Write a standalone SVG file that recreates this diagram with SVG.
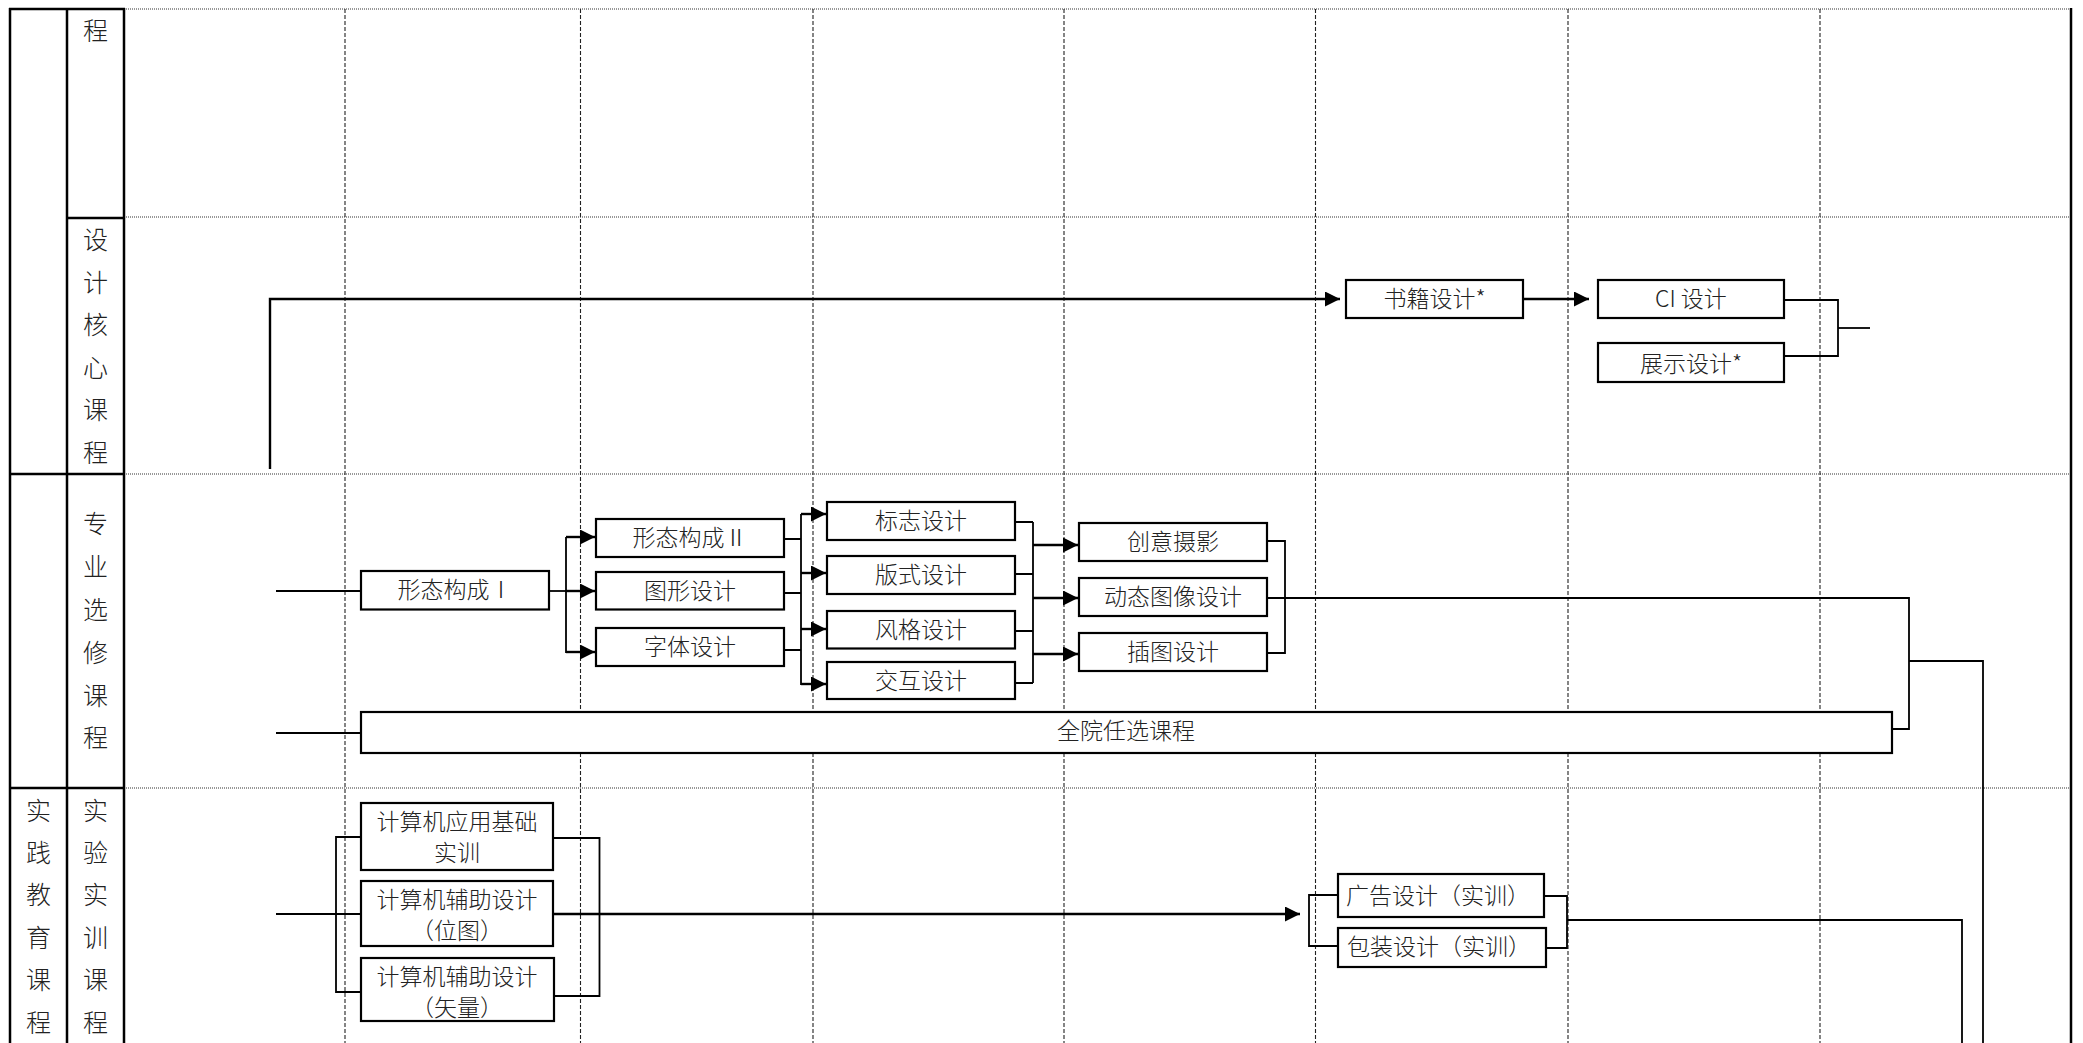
<svg xmlns="http://www.w3.org/2000/svg" width="2083" height="1043" viewBox="0 0 2083 1043">
<style>
.bg{fill:#fff}
.frame{stroke:#000;stroke-width:2.5;fill:none}
.hdot{stroke:#333;stroke-width:1.2;stroke-dasharray:1 1;fill:none}
.vdash{stroke:#222;stroke-width:1.1;stroke-dasharray:4 2;fill:none}
.box{fill:#fff;stroke:#000;stroke-width:2.2}
.conn{stroke:#000;stroke-width:1.8;fill:none}
.arr{stroke:#000;stroke-width:2.4;fill:none;marker-end:url(#ah)}
.t{font-family:"Noto Sans CJK SC","Liberation Serif",sans-serif;font-size:23px;font-weight:300;fill:#222;text-anchor:middle;dominant-baseline:central}
.lab{font-family:"Noto Sans CJK SC","Liberation Serif",sans-serif;font-size:25px;font-weight:300;fill:#222;text-anchor:middle;dominant-baseline:central}
</style>
<defs>
<marker id="ah" markerUnits="userSpaceOnUse" markerWidth="15" markerHeight="15" viewBox="0 0 15 15" refX="15" refY="7.5" orient="auto">
<path d="M0,0 L15,7.5 L0,15 z" fill="#000"/>
</marker>
</defs>
<rect class="bg" x="0" y="0" width="2083" height="1043"/>

<g id="grid">
<line class="hdot" x1="124" y1="9" x2="2071" y2="9"/>
<line class="hdot" x1="124" y1="217" x2="2071" y2="217"/>
<line class="hdot" x1="124" y1="474" x2="2071" y2="474"/>
<line class="hdot" x1="124" y1="788" x2="2071" y2="788"/>
<line class="vdash" x1="345" y1="9" x2="345" y2="1043"/>
<line class="vdash" x1="580.5" y1="9" x2="580.5" y2="1043"/>
<line class="vdash" x1="813" y1="9" x2="813" y2="1043"/>
<line class="vdash" x1="1064" y1="9" x2="1064" y2="1043"/>
<line class="vdash" x1="1315.5" y1="9" x2="1315.5" y2="1043"/>
<line class="vdash" x1="1568" y1="9" x2="1568" y2="1043"/>
<line class="vdash" x1="1820" y1="9" x2="1820" y2="1043"/>
<line class="frame" x1="2071" y1="8" x2="2071" y2="1043" stroke-width="3"/>
<line class="frame" x1="10" y1="8" x2="10" y2="1043"/>
<line class="frame" x1="67" y1="8" x2="67" y2="1043"/>
<line class="frame" x1="124" y1="8" x2="124" y2="1043"/>
<line class="frame" x1="9" y1="9" x2="125" y2="9"/>
<line class="frame" x1="67" y1="218" x2="125" y2="218"/>
<line class="frame" x1="9" y1="474" x2="125" y2="474"/>
<line class="frame" x1="9" y1="788" x2="125" y2="788"/>
</g>

<g id="labels">
<text class="lab" x="95.5" y="29">程</text>
<text class="lab" x="95.5" y="238">设</text>
<text class="lab" x="95.5" y="281">计</text>
<text class="lab" x="95.5" y="323">核</text>
<text class="lab" x="95.5" y="366">心</text>
<text class="lab" x="95.5" y="408">课</text>
<text class="lab" x="95.5" y="451">程</text>
<text class="lab" x="95.5" y="522">专</text>
<text class="lab" x="95.5" y="565">业</text>
<text class="lab" x="95.5" y="608">选</text>
<text class="lab" x="95.5" y="651">修</text>
<text class="lab" x="95.5" y="694">课</text>
<text class="lab" x="95.5" y="736">程</text>
<text class="lab" x="95.5" y="809">实</text>
<text class="lab" x="95.5" y="851">验</text>
<text class="lab" x="95.5" y="893">实</text>
<text class="lab" x="95.5" y="936">训</text>
<text class="lab" x="95.5" y="978">课</text>
<text class="lab" x="95.5" y="1021">程</text>
<text class="lab" x="38.5" y="809">实</text>
<text class="lab" x="38.5" y="851">践</text>
<text class="lab" x="38.5" y="893">教</text>
<text class="lab" x="38.5" y="936">育</text>
<text class="lab" x="38.5" y="978">课</text>
<text class="lab" x="38.5" y="1021">程</text>
</g>

<g id="connectors">
<path class="arr" d="M270,469 V299 H1340"/>
<path class="arr" d="M1523,299 H1589"/>
<path class="conn" d="M1784,300 H1838 V356 H1784"/>
<path class="conn" d="M1838,328 H1870"/>
<path class="conn" d="M276,591 H361"/>
<path class="conn" d="M549,591 H566"/>
<path class="conn" d="M566,537 V653"/>
<path class="arr" d="M566,537 H595"/>
<path class="arr" d="M566,591 H595"/>
<path class="arr" d="M566,652 H595"/>
<path class="conn" d="M784,539 H801 M784,593 H801 M784,650 H801"/>
<path class="conn" d="M801,514 V685"/>
<path class="arr" d="M801,514 H826"/>
<path class="arr" d="M801,573 H826"/>
<path class="arr" d="M801,629 H826"/>
<path class="arr" d="M801,684 H826"/>
<path class="conn" d="M1015,522 H1033 M1015,574 H1033 M1015,631 H1033 M1015,683 H1033"/>
<path class="conn" d="M1033,522 V683"/>
<path class="arr" d="M1033,545 H1078"/>
<path class="arr" d="M1033,598 H1078"/>
<path class="arr" d="M1033,654 H1078"/>
<path class="conn" d="M1267,541 H1285 V653 H1267"/>
<path class="conn" d="M1267,598 H1909 V729 H1892"/>
<path class="conn" d="M1909,661 H1983 V1043"/>
<path class="conn" d="M276,733 H361"/>
<path class="conn" d="M361,837 H336 V992 H361"/>
<path class="conn" d="M276,914 H361"/>
<path class="conn" d="M553,838 H599.5 V996 H553"/>
<path class="arr" d="M553,914 H1300"/>
<path class="conn" d="M1338,895 H1309 V946 H1338"/>
<path class="conn" d="M1544,896 H1567 V948 H1546"/>
<path class="conn" d="M1567,920 H1962 V1043"/>
</g>

<g id="n-shuji"><rect class="box" x="1346" y="280" width="177" height="38"/><text class="t" x="1434.5" y="297">书籍设计*</text></g>
<g id="n-ci"><rect class="box" x="1598" y="280" width="186" height="38"/><text class="t" x="1691" y="297">CI 设计</text></g>
<g id="n-zhanshi"><rect class="box" x="1598" y="343" width="186" height="39"/><text class="t" x="1691" y="362">展示设计*</text></g>

<g id="n-xt1"><rect class="box" x="361" y="571" width="188" height="38.5"/><text class="t" x="455" y="588">形态构成Ⅰ</text></g>
<g id="n-xt2"><rect class="box" x="596" y="519" width="188" height="38"/><text class="t" x="690" y="536">形态构成Ⅱ</text></g>
<g id="n-tx"><rect class="box" x="596" y="572" width="188" height="37.5"/><text class="t" x="690" y="589">图形设计</text></g>
<g id="n-zt"><rect class="box" x="596" y="628" width="188" height="38"/><text class="t" x="690" y="645">字体设计</text></g>
<g id="n-bz"><rect class="box" x="827" y="502" width="188" height="38"/><text class="t" x="921" y="519">标志设计</text></g>
<g id="n-bs"><rect class="box" x="827" y="556" width="188" height="38"/><text class="t" x="921" y="573">版式设计</text></g>
<g id="n-fg"><rect class="box" x="827" y="611" width="188" height="37.5"/><text class="t" x="921" y="628">风格设计</text></g>
<g id="n-jh"><rect class="box" x="827" y="662" width="188" height="37"/><text class="t" x="921" y="678.5">交互设计</text></g>
<g id="n-cy"><rect class="box" x="1079" y="523" width="188" height="38"/><text class="t" x="1173" y="540">创意摄影</text></g>
<g id="n-dt"><rect class="box" x="1079" y="578" width="188" height="38"/><text class="t" x="1173" y="595">动态图像设计</text></g>
<g id="n-ct"><rect class="box" x="1079" y="633" width="188" height="38"/><text class="t" x="1173" y="650">插图设计</text></g>
<g id="n-qy"><rect class="box" x="361" y="712" width="1531" height="41"/><text class="t" x="1126" y="729">全院任选课程</text></g>

<g id="n-jsj1"><rect class="box" x="361" y="803" width="192" height="67"/><text class="t" x="457" y="820">计算机应用基础</text><text class="t" x="457" y="851">实训</text></g>
<g id="n-jsj2"><rect class="box" x="361" y="881" width="192" height="65"/><text class="t" x="457" y="898">计算机辅助设计</text><text class="t" x="457" y="929">（位图）</text></g>
<g id="n-jsj3"><rect class="box" x="361" y="958" width="193" height="63"/><text class="t" x="457" y="975">计算机辅助设计</text><text class="t" x="457" y="1006">（矢量）</text></g>
<g id="n-gg"><rect class="box" x="1338" y="874" width="206" height="43"/><text class="t" x="1438" y="893.5">广告设计（实训）</text></g>
<g id="n-bzsj"><rect class="box" x="1338" y="928" width="208" height="39"/><text class="t" x="1439" y="945">包装设计（实训）</text></g>
</svg>
